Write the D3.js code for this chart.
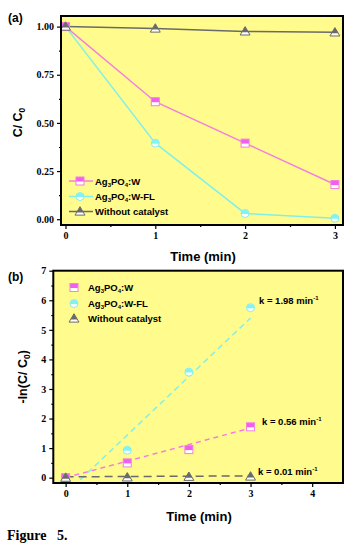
<!DOCTYPE html>
<html><head><meta charset="utf-8">
<script src="https://cdn.jsdelivr.net/npm/d3@7"></script>
<style>body{margin:0;background:#fff}svg{display:block}</style>
</head><body>
<script>
// ---- data ----
const times = [0, 1, 2, 3];
const seriesNames = ["Ag3PO4:W", "Ag3PO4:W-FL", "Without catalyst"];
const ratioW = [1.00, 0.61, 0.395, 0.18];
const ratioWFL = [1.00, 0.395, 0.03, 0.005];
const ratioNone = [1.00, 0.99, 0.975, 0.97];
const lnW = [0.0, 0.50, 0.95, 1.72];
const lnWFL = [0.0, 0.93, 3.57, 5.75];
const lnNone = [0.0, 0.01, 0.03, 0.04];
const slopes = [0.56, 1.98, 0.01];
const intercepts = [0.0, -0.54, 0.03];
const kLabels = ["k = 0.56 min", "k = 1.98 min", "k = 0.01 min"];
const ticksA_y = [0, 0.25, 0.5, 0.75, 1.0];
const ticksA_x = [0, 1, 2, 3];
const ticksB_y = [0, 1, 2, 3, 4, 5, 6, 7];
const ticksB_x = [0, 1, 2, 3, 4];

const colors = ["#f47fe0", "#82f0ea", "#6a6a6a"];
const topFill = ["#f060f0", "#80f4f4", "#6a6a6a"];
const bg = "#fffb8c";

const svg = d3.select("body").append("svg").attr("width", 353).attr("height", 551);

const serif = "'Liberation Serif','Times New Roman',serif";
const sans = "'Liberation Sans',Arial,sans-serif";

function marker(g, type, i, x, y, s) {
  const h = s / 2;
  if (type === 0) {
    g.append("rect").attr("x", x - h).attr("y", y - h).attr("width", s).attr("height", s).attr("fill", "#fff");
    g.append("rect").attr("x", x - h).attr("y", y - h).attr("width", s).attr("height", h + 0.5).attr("fill", topFill[i]);
    g.append("rect").attr("x", x - h).attr("y", y - h).attr("width", s).attr("height", s).attr("fill", "none").attr("stroke", colors[i]).attr("stroke-width", 1);
  } else if (type === 1) {
    g.append("circle").attr("cx", x).attr("cy", y).attr("r", h).attr("fill", "#fff");
    g.append("path").attr("d", `M${x - h},${y + 0.5}A${h},${h} 0 0 1 ${x + h},${y + 0.5}Z`).attr("fill", topFill[i]);
    g.append("circle").attr("cx", x).attr("cy", y).attr("r", h).attr("fill", "none").attr("stroke", colors[i]).attr("stroke-width", 1);
  } else {
    const top = y - s * 0.6, bot = y + s * 0.45, w = s * 0.62;
    const midY = y + s * 0.12, mw = w * (midY - top) / (bot - top);
    g.append("path").attr("d", `M${x},${top}L${x + w},${bot}L${x - w},${bot}Z`).attr("fill", "#fff");
    g.append("path").attr("d", `M${x},${top}L${x + mw},${midY}L${x - mw},${midY}Z`).attr("fill", topFill[i]);
    g.append("path").attr("d", `M${x},${top}L${x + w},${bot}L${x - w},${bot}Z`).attr("fill", "none").attr("stroke", colors[i]).attr("stroke-width", 1);
  }
}

function frame(g, x, y, left, top, right, bottom, xt, yt, yfmt, xminor, yminor) {
  g.append("g").attr("transform", `translate(0,${bottom})`)
    .call(d3.axisBottom(x).tickValues(xt).tickSize(4).tickPadding(3).tickFormat(d3.format("d")));
  g.append("g").attr("transform", `translate(${left},0)`)
    .call(d3.axisLeft(y).tickValues(yt).tickSize(4).tickPadding(3).tickFormat(yfmt));
  g.append("g").attr("transform", `translate(0,${bottom})`)
    .call(d3.axisBottom(x).tickValues(xminor).tickSize(2).tickFormat(""));
  g.append("g").attr("transform", `translate(${left},0)`)
    .call(d3.axisLeft(y).tickValues(yminor).tickSize(2).tickFormat(""));
  g.selectAll(".domain").remove();
  g.selectAll(".tick line").attr("stroke", "#000").attr("stroke-width", 1.2);
  g.selectAll(".tick text").attr("font-family", serif).attr("font-weight", "bold").attr("font-size", 10).attr("fill", "#000");
  g.append("rect").attr("x", left).attr("y", top).attr("width", right - left).attr("height", bottom - top)
    .attr("fill", "none").attr("stroke", "#000").attr("stroke-width", 2);
}

function agLabel(t, i, n) {
  if (i < 2) {
    t.append("tspan").text("Ag");
    t.append("tspan").text("3").attr("font-size", 6).attr("dy", 2);
    t.append("tspan").text("PO").attr("dy", -2);
    t.append("tspan").text("4").attr("font-size", 6).attr("dy", 2);
    t.append("tspan").text(i === 0 ? ":W" : ":W-FL").attr("dy", -2);
  } else t.text(n);
}

// ---------- Panel (a) ----------
{
  const L = 61, T = 16, R = 343, B = 225;
  const x = d3.scaleLinear().domain([-0.05, 3.09]).range([L, R]);
  const y = d3.scaleLinear().domain([-0.03, 1.055]).range([B, T]);
  const g = svg.append("g");
  g.append("rect").attr("x", L).attr("y", T).attr("width", R - L).attr("height", B - T).attr("fill", bg);
  const data = [ratioW, ratioWFL, ratioNone];
  const line = d3.line().x((d, j) => x(times[j])).y(d => y(d));
  data.forEach((s, i) => {
    g.append("path").attr("d", line(s)).attr("fill", "none").attr("stroke", colors[i]).attr("stroke-width", 1.5);
  });
  [1, 0, 2].forEach(i => data[i].forEach((v, j) => marker(g, i, i, x(times[j]), y(v), 8)));
  frame(g, x, y, L, T, R, B, ticksA_x, ticksA_y, d3.format(".2f"), [0.5, 1.5, 2.5], [0.125, 0.375, 0.625, 0.875]);
  const ly = [181, 196.5, 211.5];
  seriesNames.forEach((n, i) => {
    g.append("line").attr("x1", 69).attr("x2", 93).attr("y1", ly[i]).attr("y2", ly[i]).attr("stroke", colors[i]).attr("stroke-width", 1.5);
    marker(g, i, i, 80, ly[i], 8);
    const t = g.append("text").attr("x", 95).attr("y", ly[i] + 3.5).attr("font-family", sans).attr("font-weight", "bold").attr("font-size", 9.5).attr("fill", "#000");
    agLabel(t, i, n);
  });
  g.append("text").attr("x", 203).attr("y", 261).attr("text-anchor", "middle").attr("font-family", sans).attr("font-weight", "bold").attr("font-size", 13).text("Time (min)");
  const yt = g.append("text").attr("transform", `translate(22,${(T + B) / 2 + 2}) rotate(-90)`).attr("text-anchor", "middle").attr("font-family", sans).attr("font-weight", "bold").attr("font-size", 12.5);
  yt.append("tspan").text("C/ C");
  yt.append("tspan").text("0").attr("font-size", 8.5).attr("dy", 3);
  g.append("text").attr("x", 8).attr("y", 22).attr("font-family", sans).attr("font-weight", "bold").attr("font-size", 12).text("(a)");
}

// ---------- Panel (b) ----------
{
  const L = 53.3, T = 270.7, R = 343, B = 483;
  const x = d3.scaleLinear().domain([-0.2, 4.5]).range([L, R]);
  const y = d3.scaleLinear().domain([-0.18, 7]).range([B, T]);
  const g = svg.append("g");
  g.append("rect").attr("x", L).attr("y", T).attr("width", R - L).attr("height", B - T).attr("fill", bg);
  g.append("clipPath").attr("id", "plotb").append("rect").attr("x", L).attr("y", T).attr("width", R - L).attr("height", B - T);
  const data = [lnW, lnWFL, lnNone];
  const dashes = ["5,4", "6,4", "8,5"];
  const fitG = g.append("g").attr("clip-path", "url(#plotb)");
  data.forEach((s, i) => {
    fitG.append("line").attr("x1", x(0)).attr("x2", x(3))
      .attr("y1", y(intercepts[i])).attr("y2", y(intercepts[i] + slopes[i] * 3))
      .attr("stroke", colors[i]).attr("stroke-width", 1.5).attr("stroke-dasharray", dashes[i]);
  });
  [1, 0, 2].forEach(i => data[i].forEach((v, j) => marker(g, i, i, x(times[j]), y(v), 8)));
  frame(g, x, y, L, T, R, B, ticksB_x, ticksB_y, d3.format("d"), [0.5, 1.5, 2.5, 3.5], [0.5, 1.5, 2.5, 3.5, 4.5, 5.5, 6.5]);
  const kpos = [[262, 425], [259, 303.5], [258, 475]];
  kLabels.forEach((k, i) => {
    const t = g.append("text").attr("x", kpos[i][0]).attr("y", kpos[i][1]).attr("font-family", sans).attr("font-weight", "bold").attr("font-size", 9.5).attr("fill", "#000");
    t.append("tspan").text(k);
    t.append("tspan").text("-1").attr("font-size", 6).attr("dy", -4);
  });
  const ly = [287.5, 303.5, 318.5];
  seriesNames.forEach((n, i) => {
    marker(g, i, i, 74, ly[i], 8);
    const t = g.append("text").attr("x", 88).attr("y", ly[i] + 3.5).attr("font-family", sans).attr("font-weight", "bold").attr("font-size", 9.5).attr("fill", "#000");
    agLabel(t, i, n);
  });
  g.append("text").attr("x", 199).attr("y", 521).attr("text-anchor", "middle").attr("font-family", sans).attr("font-weight", "bold").attr("font-size", 13).text("Time (min)");
  const yt = g.append("text").attr("transform", `translate(27,${(T + B) / 2}) rotate(-90)`).attr("text-anchor", "middle").attr("font-family", sans).attr("font-weight", "bold").attr("font-size", 12.5);
  yt.append("tspan").text("-ln(C/ C");
  yt.append("tspan").text("0").attr("font-size", 8.5).attr("dy", 3);
  yt.append("tspan").text(")").attr("dy", -3);
  g.append("text").attr("x", 8).attr("y", 281).attr("font-family", sans).attr("font-weight", "bold").attr("font-size", 12).text("(b)");
}
svg.append("text").attr("x", 7).attr("y", 540).attr("font-family", serif).attr("font-weight", "bold").attr("font-size", 14).attr("xml:space", "preserve").text("Figure   5.");
</script>
</body></html>
